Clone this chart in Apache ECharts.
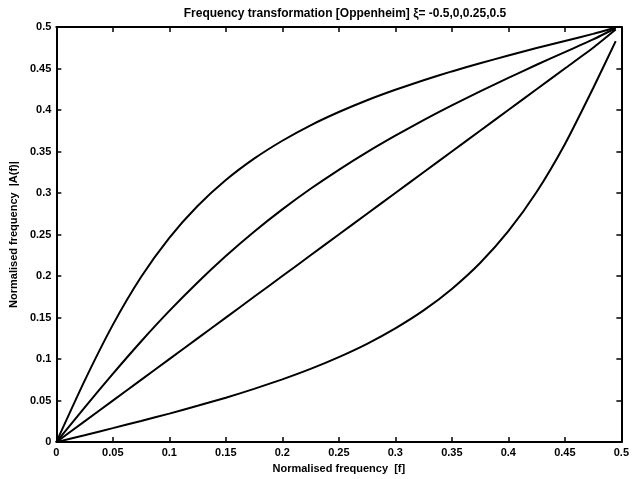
<!DOCTYPE html>
<html>
<head>
<meta charset="utf-8">
<script src="https://cdn.jsdelivr.net/npm/echarts@6/dist/echarts.min.js"></script>
<style>html,body{margin:0;padding:0;background:#fff}#c{width:632px;height:479px}</style>
</head>
<body>
<div id="c"></div>
<script>
var freq   = [0,0.025,0.05,0.075,0.1,0.125,0.15,0.175,0.2,0.225,0.25,0.275,0.3,0.325,0.35,0.375,0.4,0.425,0.45,0.475,0.495];
var xiNeg05 = [0,0.0083,0.0168,0.0254,0.0343,0.0437,0.0535,0.0641,0.0756,0.0882,0.1024,0.1184,0.1370,0.1586,0.1845,0.2157,0.2540,0.3012,0.3588,0.4262,0.4830];
var xi0     = [0,0.025,0.05,0.075,0.1,0.125,0.15,0.175,0.2,0.225,0.25,0.275,0.3,0.325,0.35,0.375,0.4,0.425,0.45,0.475,0.497];
var xi025   = [0,0.0415,0.0822,0.1212,0.1580,0.1923,0.2241,0.2534,0.2803,0.3051,0.3280,0.3493,0.3691,0.3879,0.4056,0.4225,0.4387,0.4545,0.4698,0.4850,0.4985];
var xi05    = [0,0.0738,0.1412,0.1988,0.2460,0.2843,0.3156,0.3414,0.3630,0.3816,0.3976,0.4118,0.4244,0.4359,0.4465,0.4563,0.4657,0.4746,0.4832,0.4917,0.4995];
var seriesNames = ['ξ=-0.5','ξ=0','ξ=0.25','ξ=0.5'];
var seriesVals = [xiNeg05, xi0, xi025, xi05];

var FONT = '"Liberation Sans", Arial, sans-serif';
function pairs(v){ return freq.map(function(f,i){ return [f, v[i]]; }); }
function fmt(v){ return v === 0 ? '0' : String(+v.toFixed(2)); }

var axisCommon = {
  type: 'value', min: 0, max: 0.5, interval: 0.05,
  axisLine: { show: true, onZero: false, lineStyle: { color: '#000', width: 2 } },
  axisTick: { show: true, inside: true, length: 5, lineStyle: { color: '#000', width: 1.5 } },
  splitLine: { show: false },
  axisLabel: { color: '#000', fontFamily: FONT, fontSize: 11, fontWeight: 'bold', formatter: fmt }
};
function ax(extra){ return Object.assign({}, JSON.parse(JSON.stringify(axisCommon)), {axisLabel: Object.assign({}, axisCommon.axisLabel)}, extra); }

var chart = echarts.init(document.getElementById('c'), null, { renderer: 'canvas' });
chart.setOption({
  animation: false,
  backgroundColor: '#fff',
  title: {
    text: 'Frequency transformation [Oppenheim] ξ= -0.5,0,0.25,0.5',
    left: 340, top: 3, textAlign: 'center',
    textStyle: { color: '#000', fontFamily: FONT, fontSize: 12, fontWeight: 'bold' }
  },
  grid: { left: 55, right: 10, top: 27, bottom: 34, containLabel: false },
  xAxis: [
    ax({ position: 'bottom', name: 'Normalised frequency  [f]', nameLocation: 'middle', nameGap: 18,
         nameTextStyle: { color: '#000', fontFamily: FONT, fontSize: 11, fontWeight: 'bold' },
         axisLabel: { color: '#000', fontFamily: FONT, fontSize: 11, fontWeight: 'bold', margin: 5, formatter: fmt } }),
    ax({ position: 'top', axisLabel: { show: false } })
  ],
  yAxis: [
    ax({ position: 'left', name: 'Normalised frequency  |A(f)|', nameLocation: 'middle', nameGap: 31,
         nameTextStyle: { color: '#000', fontFamily: FONT, fontSize: 11, fontWeight: 'bold' },
         axisLabel: { color: '#000', fontFamily: FONT, fontSize: 11, fontWeight: 'bold', margin: 5, formatter: fmt } }),
    ax({ position: 'right', axisLabel: { show: false } })
  ],
  series: seriesVals.map(function(v, i){
    return {
      name: seriesNames[i], type: 'line', xAxisIndex: 0, yAxisIndex: 0,
      data: pairs(v), showSymbol: false, smooth: 0.2,
      lineStyle: { color: '#000', width: 2 }
    };
  })
});
</script>
</body>
</html>
